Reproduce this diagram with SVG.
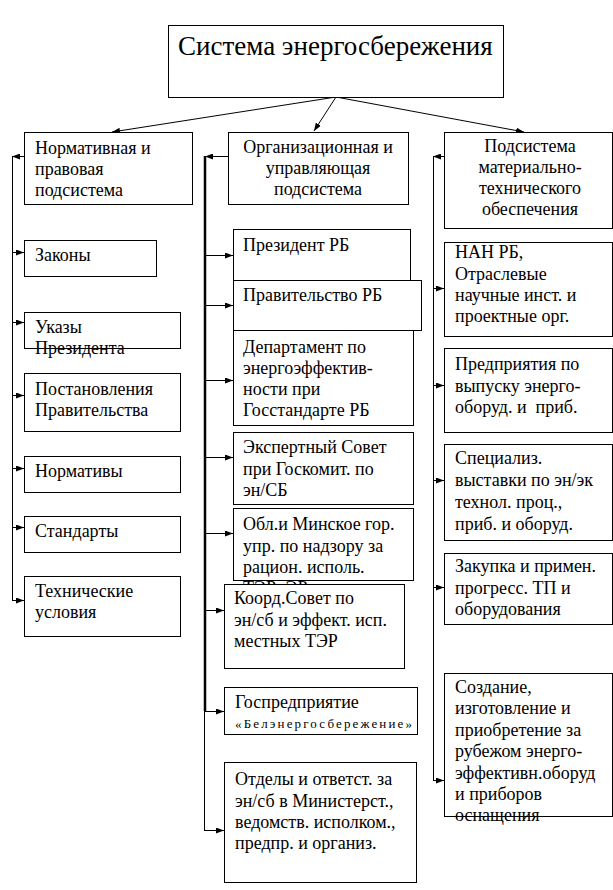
<svg xmlns="http://www.w3.org/2000/svg" width="613" height="890" viewBox="0 0 613 890" font-family="'Liberation Serif', 'Times New Roman', serif">
<style>
.box{fill:#fff;stroke:#000;stroke-width:1}
.t{font-family:'Liberation Serif','Times New Roman',serif;font-size:18px;fill:#000}
.c{text-anchor:middle}
.big{font-size:27px}
.small{font-size:13px}
.ln{stroke:#000;stroke-width:1;fill:none}
.thick{stroke-width:2.5}
</style>
<defs>
<marker id="ah" markerUnits="userSpaceOnUse" markerWidth="8" markerHeight="6" refX="8" refY="3" orient="auto">
<path d="M0,0 L8,3 L0,6 z" fill="#000"/>
</marker>
<clipPath id="oblclip"><rect x="233" y="508" width="181" height="76"/></clipPath>
</defs>
<rect width="613" height="890" fill="#fff"/>

<g id="connectors">
<line class="ln" x1="336" y1="97" x2="112" y2="132" marker-end="url(#ah)"/>
<line class="ln" x1="336" y1="97" x2="314" y2="131" marker-end="url(#ah)"/>
<line class="ln" x1="336" y1="97" x2="524" y2="132" marker-end="url(#ah)"/>
<line class="ln" x1="24" y1="156.5" x2="12" y2="156.5" marker-end="url(#ah)"/>
<line class="ln" x1="12.5" y1="156" x2="12.5" y2="600.5"/>
<line class="ln" x1="12" y1="252.5" x2="24" y2="252.5" marker-end="url(#ah)"/>
<line class="ln" x1="12" y1="322.5" x2="24" y2="322.5" marker-end="url(#ah)"/>
<line class="ln" x1="12" y1="395.5" x2="24" y2="395.5" marker-end="url(#ah)"/>
<line class="ln" x1="12" y1="468.5" x2="24" y2="468.5" marker-end="url(#ah)"/>
<line class="ln" x1="12" y1="527.5" x2="24" y2="527.5" marker-end="url(#ah)"/>
<line class="ln" x1="12" y1="600.5" x2="24" y2="600.5" marker-end="url(#ah)"/>
<line class="ln" x1="228" y1="156.5" x2="205" y2="156.5" marker-end="url(#ah)"/>
<line class="ln thick" x1="205" y1="156" x2="205" y2="711"/>
<line class="ln" x1="204.5" y1="711" x2="204.5" y2="830.5"/>
<line class="ln" x1="205" y1="255.5" x2="233" y2="255.5" marker-end="url(#ah)"/>
<line class="ln" x1="205" y1="305.5" x2="233" y2="305.5" marker-end="url(#ah)"/>
<line class="ln" x1="205" y1="380.5" x2="233" y2="380.5" marker-end="url(#ah)"/>
<line class="ln" x1="205" y1="457.5" x2="233" y2="457.5" marker-end="url(#ah)"/>
<line class="ln" x1="205" y1="533.5" x2="233" y2="533.5" marker-end="url(#ah)"/>
<line class="ln" x1="205" y1="610.5" x2="224" y2="610.5" marker-end="url(#ah)"/>
<line class="ln" x1="205" y1="711.5" x2="224" y2="711.5" marker-end="url(#ah)"/>
<line class="ln" x1="204" y1="830.5" x2="224" y2="830.5" marker-end="url(#ah)"/>
<line class="ln" x1="444" y1="156.5" x2="433" y2="156.5" marker-end="url(#ah)"/>
<line class="ln" x1="433.5" y1="156" x2="433.5" y2="780.5"/>
<line class="ln" x1="433" y1="288.5" x2="444" y2="288.5" marker-end="url(#ah)"/>
<line class="ln" x1="433" y1="385.5" x2="444" y2="385.5" marker-end="url(#ah)"/>
<line class="ln" x1="433" y1="480.5" x2="444" y2="480.5" marker-end="url(#ah)"/>
<line class="ln" x1="433" y1="587.5" x2="444" y2="587.5" marker-end="url(#ah)"/>
<line class="ln" x1="433" y1="780.5" x2="444" y2="780.5" marker-end="url(#ah)"/>
</g>

<g id="root">
<rect class="box" x="168.5" y="25.5" width="335" height="72"/>
<text class="t big" x="178" y="55">Система энергосбережения</text>
</g>

<g id="n-norm">
<rect class="box" x="24.5" y="132.5" width="168" height="72"/>
<text class="t" x="35" y="154">Нормативная и</text>
<text class="t" x="35" y="175">правовая</text>
<text class="t" x="35" y="196">подсистема</text>
</g>
<g id="n-zakony">
<rect class="box" x="24.5" y="240.5" width="132" height="36"/>
<text class="t" x="35" y="261">Законы</text>
</g>
<g id="n-ukazy">
<rect class="box" x="24.5" y="312.5" width="156" height="36"/>
<text class="t" x="35" y="333">Указы</text>
<text class="t" x="35" y="354">Президента</text>
</g>
<g id="n-post">
<rect class="box" x="24.5" y="373.5" width="156" height="58"/>
<text class="t" x="35" y="395">Постановления</text>
<text class="t" x="35" y="416">Правительства</text>
</g>
<g id="n-normativy">
<rect class="box" x="24.5" y="456.5" width="156" height="36"/>
<text class="t" x="35" y="477">Нормативы</text>
</g>
<g id="n-standarty">
<rect class="box" x="24.5" y="516.5" width="156" height="36"/>
<text class="t" x="35" y="537">Стандарты</text>
</g>
<g id="n-tu">
<rect class="box" x="24.5" y="576.5" width="156" height="60"/>
<text class="t" x="35" y="597">Технические</text>
<text class="t" x="35" y="618">условия</text>
</g>

<g id="n-org">
<rect class="box" x="228.5" y="132.5" width="180" height="72"/>
<text class="t c" x="318" y="153">Организационная и</text>
<text class="t c" x="318" y="174">управляющая</text>
<text class="t c" x="318" y="195">подсистема</text>
</g>
<g id="n-prezident">
<rect class="box" x="233.5" y="229.5" width="177" height="51"/>
<text class="t" x="243" y="251">Президент РБ</text>
</g>
<g id="n-pravitelstvo">
<rect class="box" x="233.5" y="280.5" width="188" height="50"/>
<text class="t" x="243" y="301">Правительство РБ</text>
</g>
<g id="n-departament">
<rect class="box" x="233.5" y="330.5" width="180" height="95"/>
<text class="t" x="243" y="353">Департамент по</text>
<text class="t" x="243" y="374">энергоэффектив-</text>
<text class="t" x="243" y="395">ности при</text>
<text class="t" x="243" y="416">Госстандарте РБ</text>
</g>
<g id="n-ekspert">
<rect class="box" x="233.5" y="432.5" width="180" height="72"/>
<text class="t" x="243" y="453">Экспертный Совет</text>
<text class="t" x="243" y="475">при Госкомит. по</text>
<text class="t" x="243" y="496">эн/СБ</text>
</g>
<g id="n-obl">
<rect class="box" x="233.5" y="508.5" width="180" height="72"/>
<text class="t" x="243" y="530">Обл.и Минское гор.</text>
<text class="t" x="243" y="552">упр. по надзору за</text>
<text class="t" x="243" y="573">рацион. исполь.</text>
<text class="t" x="243" y="594" clip-path="url(#oblclip)">ТЭРиЭР</text>
</g>
<g id="n-koord">
<rect class="box" x="224.5" y="584.5" width="180" height="84"/>
<text class="t" x="234" y="604">Коорд.Совет по</text>
<text class="t" x="234" y="626">эн/сб и эффект. исп.</text>
<text class="t" x="234" y="647">местных ТЭР</text>
</g>
<g id="n-gospred">
<rect class="box" x="224.5" y="687.5" width="193" height="47"/>
<text class="t" x="235" y="708">Госпредприятие</text>
<text class="t small" x="235" y="728" textLength="177" lengthAdjust="spacing">«Белэнергосбережение»</text>
</g>
<g id="n-otdely">
<rect class="box" x="224.5" y="762.5" width="192" height="120"/>
<text class="t" x="235" y="785">Отделы и ответст. за</text>
<text class="t" x="235" y="807">эн/сб в Министерст.,</text>
<text class="t" x="235" y="828">ведомств. исполком.,</text>
<text class="t" x="235" y="849">предпр. и организ.</text>
</g>

<g id="n-mto">
<rect class="box" x="444.5" y="132.5" width="168" height="96"/>
<text class="t c" x="530" y="152">Подсистема</text>
<text class="t c" x="530" y="173">материально-</text>
<text class="t c" x="530" y="194">технического</text>
<text class="t c" x="530" y="215">обеспечения</text>
</g>
<g id="n-nan">
<rect class="box" x="444.5" y="242.5" width="168" height="94"/>
<text class="t" x="455" y="258">НАН РБ,</text>
<text class="t" x="455" y="280">Отраслевые</text>
<text class="t" x="455" y="301">научные инст. и</text>
<text class="t" x="455" y="322">проектные орг.</text>
</g>
<g id="n-predpr">
<rect class="box" x="444.5" y="348.5" width="168" height="84"/>
<text class="t" x="455" y="370">Предприятия по</text>
<text class="t" x="455" y="392">выпуску энерго-</text>
<text class="t" x="455" y="413" xml:space="preserve">оборуд. и  приб.</text>
</g>
<g id="n-vystavki">
<rect class="box" x="444.5" y="444.5" width="168" height="96"/>
<text class="t" x="455" y="464">Специализ.</text>
<text class="t" x="455" y="486">выставки по эн/эк</text>
<text class="t" x="455" y="508">технол. проц.,</text>
<text class="t" x="455" y="530">приб. и оборуд.</text>
</g>
<g id="n-zakupka">
<rect class="box" x="444.5" y="553.5" width="168" height="71"/>
<text class="t" x="455" y="572">Закупка и примен.</text>
<text class="t" x="455" y="594">прогресс. ТП и</text>
<text class="t" x="455" y="615">оборудования</text>
</g>
<g id="n-sozdanie">
<rect class="box" x="444.5" y="673.5" width="168" height="143"/>
<text class="t" x="455" y="693">Создание,</text>
<text class="t" x="455" y="714">изготовление и</text>
<text class="t" x="455" y="736">приобретение за</text>
<text class="t" x="455" y="757">рубежом энерго-</text>
<text class="t" x="455" y="779">эффективн.оборуд</text>
<text class="t" x="455" y="800">и приборов</text>
<text class="t" x="455" y="821">оснащения</text>
</g>
</svg>
